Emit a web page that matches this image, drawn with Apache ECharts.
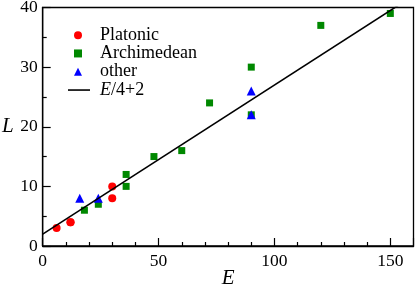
<!DOCTYPE html>
<html><head><meta charset="utf-8">
<script src="https://cdn.jsdelivr.net/npm/echarts@6/dist/echarts.min.js"></script>
<style>html,body{margin:0;padding:0;background:#fff}#c{width:415px;height:285px}</style>
</head><body><div id="c"></div>
<script>
var platonic = [[6,3],[12,4],[12,4],[30,10],[30,8]];
var archimedean = [[18,6],[24,7],[36,12],[36,10],[48,15],[60,16],[72,24],[90,30],[90,22],[120,37],[150,39]];
var other = [[16,8],[24,8],[90,26],[90,22]];
var fitLine = [[0,2],[160,42]];
var xTicks = [0,50,100,150];
var yTicks = [0,10,20,30,40];

var FONT = '"Liberation Serif", "DejaVu Serif", serif';
var chart = echarts.init(document.getElementById('c'), null, {renderer:'canvas'});
var axisCommon = {
  axisLine:{show:true,onZero:false,lineStyle:{color:'#000',width:1.3}},
  axisTick:{show:true,inside:true,length:8,lineStyle:{color:'#000',width:1.2}},
  minorTick:{show:true,length:4,lineStyle:{color:'#000',width:1.2}},
  splitLine:{show:false},
  axisLabel:{color:'#000',fontFamily:FONT,fontSize:17.5},
  nameMoveOverlap:false,
  nameTextStyle:{color:'#000',fontFamily:FONT,fontSize:21,fontStyle:'italic'}
};
var legendText = {color:'#000',fontFamily:FONT,fontSize:18,lineHeight:18.3,
  rich:{i:{fontStyle:'italic',fontFamily:FONT,fontSize:18,color:'#000'},n:{fontFamily:FONT,fontSize:18,color:'#000'}}};
chart.setOption({
  animation:false,
  grid:{left:42.7,right:1.5,top:7.5,bottom:39,show:true,borderColor:'#000',borderWidth:1.3,containLabel:false,outerBoundsMode:'none'},
  xAxis:Object.assign({},axisCommon,{type:'value',min:0,max:160,interval:50,
    minorTick:Object.assign({},axisCommon.minorTick,{splitNumber:5}),
    axisLabel:Object.assign({},axisCommon.axisLabel,{margin:6,
      formatter:function(v){return xTicks.indexOf(v)>=0?String(v):'';}}),
    name:'E',nameLocation:'middle',nameGap:22}),
  yAxis:Object.assign({},axisCommon,{type:'value',min:0,max:40,interval:10,
    minorTick:Object.assign({},axisCommon.minorTick,{splitNumber:2}),
    axisLabel:Object.assign({},axisCommon.axisLabel,{margin:5,
      formatter:function(v){return yTicks.indexOf(v)>=0?String(v):'';}}),
    name:'L',nameLocation:'middle',nameRotate:0,nameGap:29}),
  legend:[
    {orient:'vertical',left:74,top:26,padding:0,itemWidth:8,itemHeight:8,itemGap:0,
      textStyle:Object.assign({},legendText,{padding:[0,0,0,13]}),
      data:[{name:'Platonic',icon:'circle'},{name:'Archimedean',icon:'rect',itemStyle:{}},{name:'other',icon:'triangle'}]},
    {orient:'vertical',left:68,top:80.9,padding:0,itemWidth:22,itemHeight:1.6,itemGap:0,
      textStyle:Object.assign({},legendText,{padding:[0,0,0,5]}),
      formatter:function(name){ return '{i|E}{n|/4+2}'; },
      data:[{name:'E/4+2',icon:'rect'}]}
  ],
  series:[
    {name:'Platonic',type:'scatter',symbol:'circle',symbolSize:8,itemStyle:{color:'#ff0000',opacity:1},data:platonic},
    {name:'Archimedean',type:'scatter',symbol:'rect',symbolSize:7,itemStyle:{color:'#008800',opacity:1},data:archimedean},
    {name:'other',type:'scatter',symbol:'triangle',symbolSize:9,itemStyle:{color:'#0000ff',opacity:1},data:other},
    {name:'E/4+2',type:'line',showSymbol:false,symbol:'none',clip:true,lineStyle:{color:'#000',width:1.6},itemStyle:{color:'#000'},data:fitLine}
  ]
});
</script></body></html>
